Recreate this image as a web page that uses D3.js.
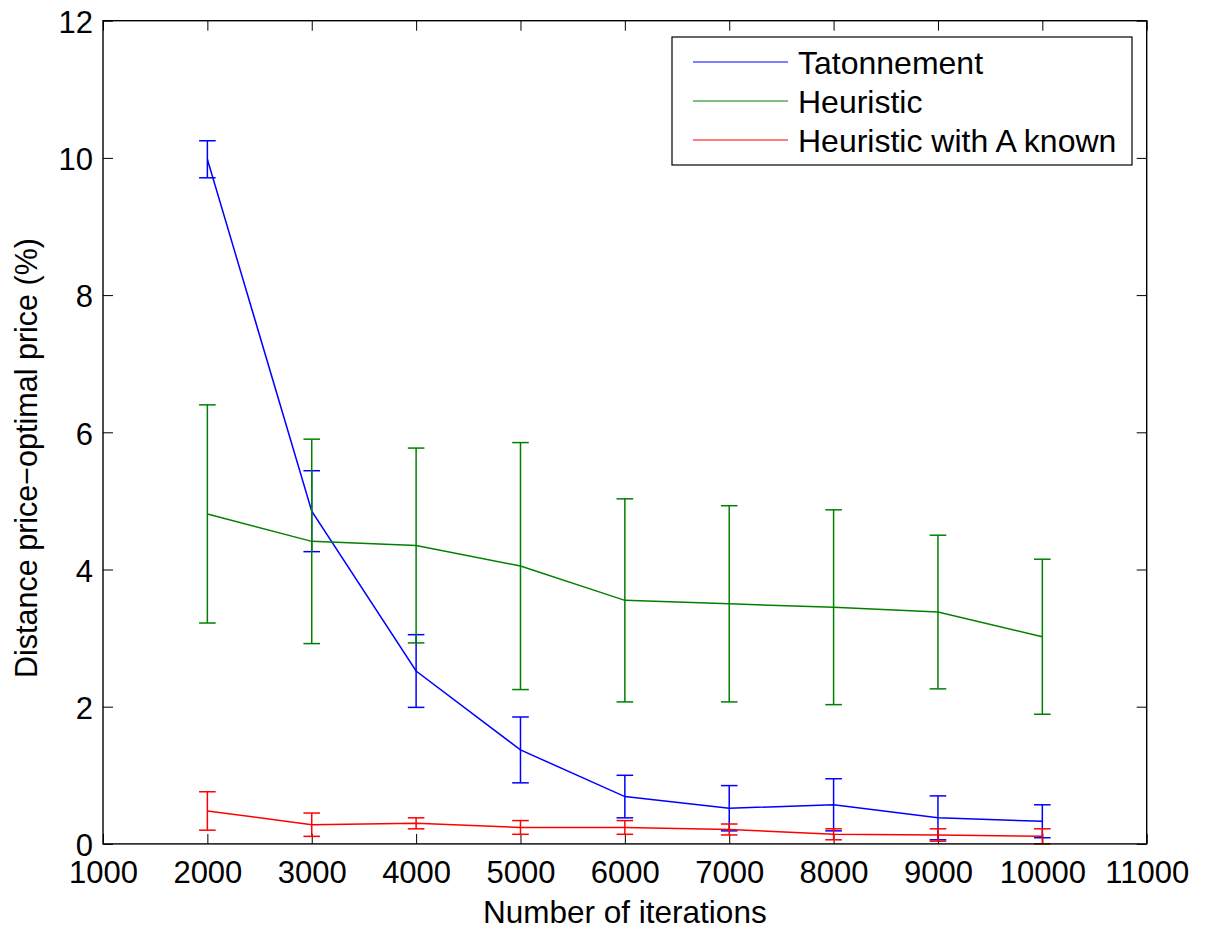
<!DOCTYPE html>
<html>
<head>
<meta charset="utf-8">
<script src="https://cdnjs.cloudflare.com/ajax/libs/d3/7.8.5/d3.min.js"></script>
<style>
  body { margin: 0; background: #fff; }
  text { font-family: "Liberation Sans", Arial, Helvetica, sans-serif; fill: #000; }
</style>
</head>
<body>
<div class="box"></div>
<script>
// data
const iterations = [2000, 3000, 4000, 5000, 6000, 7000, 8000, 9000, 10000];

const tatMean = [9.98, 4.85, 2.52, 1.37, 0.69, 0.52, 0.57, 0.38, 0.33];
const tatErr  = [0.27, 0.59, 0.53, 0.48, 0.31, 0.33, 0.38, 0.32, 0.24];

const heurMean = [4.81, 4.41, 4.35, 4.05, 3.55, 3.50, 3.45, 3.38, 3.02];
const heurErr  = [1.59, 1.49, 1.42, 1.80, 1.48, 1.43, 1.42, 1.12, 1.13];

const knownMean = [0.48, 0.28, 0.30, 0.24, 0.24, 0.21, 0.14, 0.13, 0.11];
const knownErr  = [0.28, 0.17, 0.08, 0.10, 0.10, 0.08, 0.08, 0.09, 0.11];

const xTicks = [1000, 2000, 3000, 4000, 5000, 6000, 7000, 8000, 9000, 10000, 11000];
const yTicks = [0, 2, 4, 6, 8, 10, 12];

const seriesNames = ['Tatonnement', 'Heuristic', 'Heuristic with A known'];
const seriesColors = ['#0000ff', '#008000', '#ff0000'];

const series = [
  {name: seriesNames[0], color: seriesColors[0], mean: tatMean, err: tatErr},
  {name: seriesNames[1], color: seriesColors[1], mean: heurMean, err: heurErr},
  {name: seriesNames[2], color: seriesColors[2], mean: knownMean, err: knownErr}
];

const svg = d3.select('.box')
              .append('svg')
              .attr('width', 1207)
              .attr('height', 931)
              .style('background', '#fff');

// plot box
const box = {left: 103, right: 1146.7, top: 20.7, bottom: 843.9};

const x = d3.scaleLinear().domain([1000, 11000]).range([box.left, box.right]);
const y = d3.scaleLinear().domain([0, 12]).range([box.bottom, box.top]);

// axes, ticks pointing inward like matlab
const axeX = d3.axisBottom(x).tickValues(xTicks).tickFormat(d3.format('d'))
               .tickSizeInner(-10).tickSizeOuter(0).tickPadding(18);
const axeY = d3.axisLeft(y).tickValues(yTicks).tickFormat(d3.format('d'))
               .tickSizeInner(-10).tickSizeOuter(0).tickPadding(10);
const axeTop = d3.axisTop(x).tickValues(xTicks).tickSizeInner(-10).tickSizeOuter(0).tickFormat('');
const axeRight = d3.axisRight(y).tickValues(yTicks).tickSizeInner(-10).tickSizeOuter(0).tickFormat('');

const gx = svg.append('g').attr('transform', `translate(0, ${box.bottom})`).call(axeX);
const gy = svg.append('g').attr('transform', `translate(${box.left}, 0)`).call(axeY);
const gt = svg.append('g').attr('transform', `translate(0, ${box.top})`).call(axeTop);
const gr = svg.append('g').attr('transform', `translate(${box.right}, 0)`).call(axeRight);

[gx, gy, gt, gr].forEach(g => {
  g.select('.domain').remove();
  g.selectAll('line').attr('stroke', '#000').attr('stroke-width', 1);
  g.selectAll('text').style('font-size', '31px').attr('fill', '#000');
});
gx.selectAll('text').attr('dy', '0.69em');
gy.selectAll('text').attr('dy', '0.38em');

// series: line + error bars
const valueLine = d3.line()
  .x((d, i) => x(iterations[i]))
  .y(d => y(d));

const cap = 8.3;

series.forEach(s => {
  const g = svg.append('g');
  g.append('path')
   .attr('d', valueLine(s.mean))
   .attr('fill', 'none')
   .attr('stroke', s.color)
   .attr('stroke-width', 1.5);

  const bars = g.selectAll('g.bar')
    .data(s.mean.map((m, i) => ({it: iterations[i], lo: m - s.err[i], hi: m + s.err[i]})))
    .enter().append('g').attr('class', 'bar')
    .attr('stroke', s.color).attr('stroke-width', 1.5);

  bars.append('line')
      .attr('x1', d => x(d.it)).attr('x2', d => x(d.it))
      .attr('y1', d => y(d.lo)).attr('y2', d => y(d.hi));
  bars.append('line')
      .attr('x1', d => x(d.it) - cap).attr('x2', d => x(d.it) + cap)
      .attr('y1', d => y(d.hi)).attr('y2', d => y(d.hi));
  bars.append('line')
      .attr('x1', d => x(d.it) - cap).attr('x2', d => x(d.it) + cap)
      .attr('y1', d => y(d.lo)).attr('y2', d => y(d.lo));
});

// box
svg.append('rect')
   .attr('x', box.left).attr('y', box.top)
   .attr('width', box.right - box.left).attr('height', box.bottom - box.top)
   .attr('fill', 'none').attr('stroke', '#000').attr('stroke-width', 1.4);

// axis labels
svg.append('text')
   .attr('x', (box.left + box.right) / 2).attr('y', 922.5)
   .attr('text-anchor', 'middle')
   .style('font-size', '31.5px')
   .text('Number of iterations');

svg.append('text')
   .attr('transform', 'translate(37, 458) rotate(-90)')
   .attr('text-anchor', 'middle')
   .style('font-size', '30.5px')
   .text('Distance price\u2212optimal price (%)');

// legend
const legend = svg.append('g');
legend.append('rect')
      .attr('x', 672).attr('y', 37)
      .attr('width', 460).attr('height', 128)
      .attr('fill', '#fff').attr('stroke', '#000').attr('stroke-width', 1.2);

series.forEach((s, i) => {
  const ly = 62 + i * 39;
  legend.append('line')
        .attr('x1', 693).attr('x2', 788)
        .attr('y1', ly).attr('y2', ly)
        .attr('stroke', s.color).attr('stroke-width', 1.2);
  legend.append('text')
        .attr('x', 798).attr('y', ly)
        .attr('dy', '0.36em')
        .style('font-size', '32px')
        .text(s.name);
});
</script>
</body>
</html>
